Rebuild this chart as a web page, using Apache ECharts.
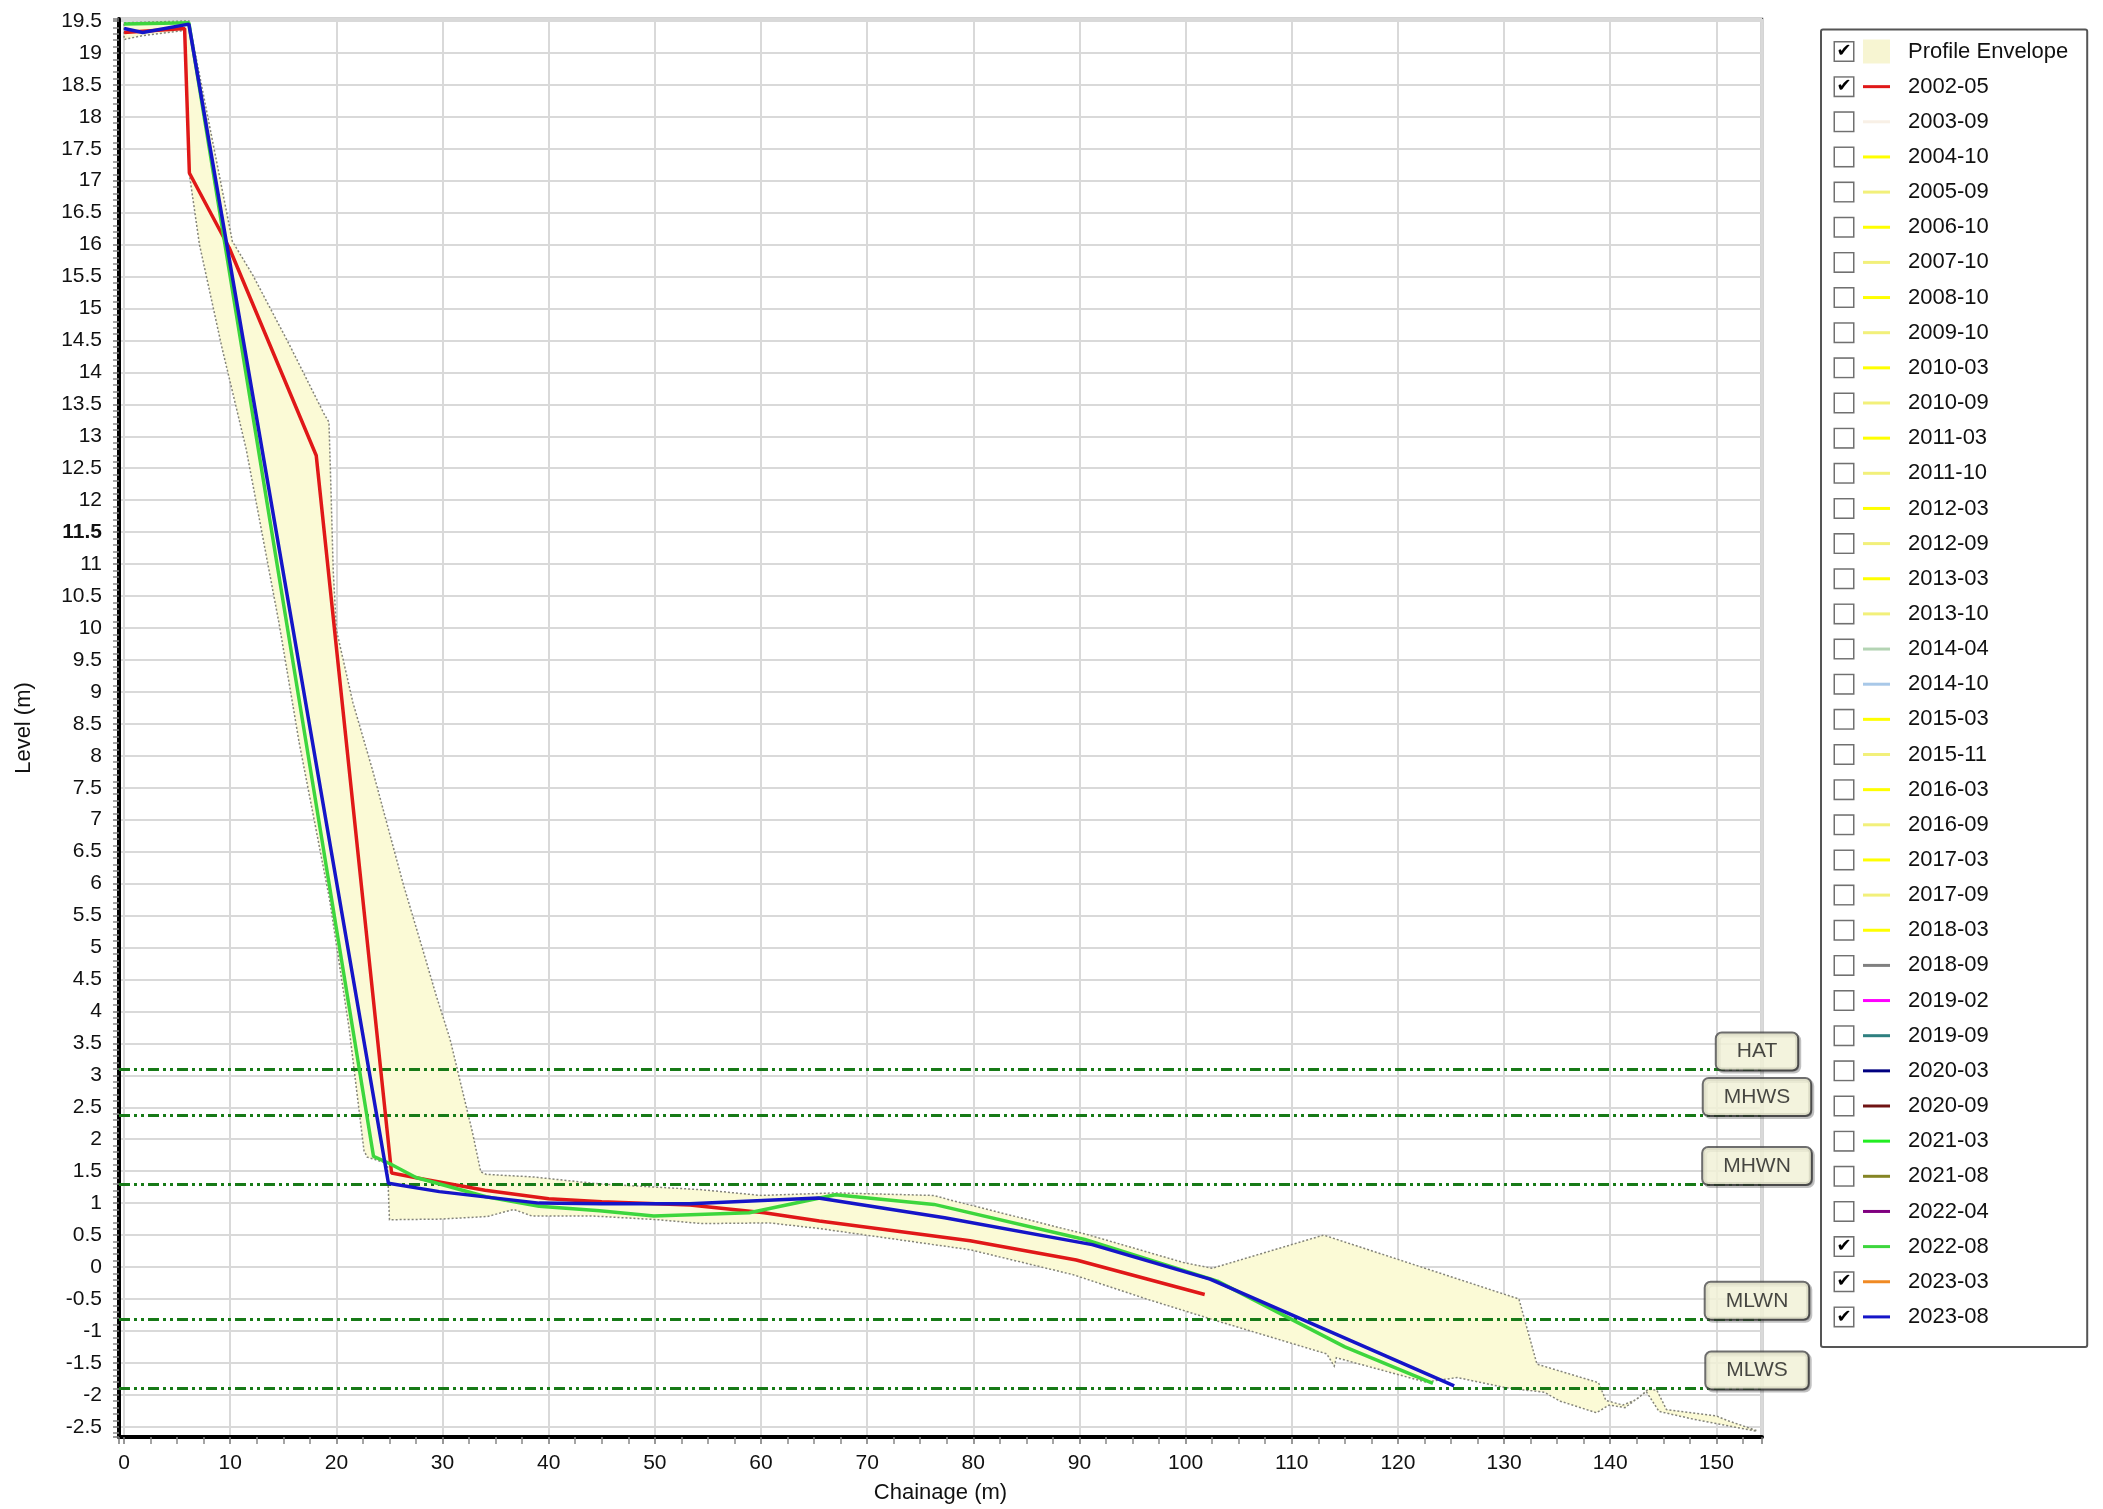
<!DOCTYPE html>
<html>
<head>
<meta charset="utf-8">
<script src="https://cdn.jsdelivr.net/npm/echarts@6/dist/echarts.min.js"></script>
<style>
html,body{margin:0;padding:0;background:#fff;}
#chart{width:2103px;height:1509px;}
</style>
</head>
<body>
<div id="chart"></div>
<script>
// ---------------- DATA ----------------
const profileNames = ['2002-05','2003-09','2004-10','2005-09','2006-10','2007-10','2008-10','2009-10','2010-03','2010-09','2011-03','2011-10','2012-03','2012-09','2013-03','2013-10','2014-04','2014-10','2015-03','2015-11','2016-03','2016-09','2017-03','2017-09','2018-03','2018-09','2019-02','2019-09','2020-03','2020-09','2021-03','2021-08','2022-04','2022-08','2023-03','2023-08'];
const profileColors = ['#E01818','#F8F0E6','#FFFF00','#F2F07A','#FFFF00','#F2F07A','#FFFF00','#F2F07A','#FFFF00','#F2F07A','#FFFF00','#F2F07A','#FFFF00','#F2F07A','#FFFF00','#F2F07A','#B4D4B4','#A8C8E8','#FFFF00','#F2F07A','#FFFF00','#F2F07A','#FFFF00','#F2F07A','#FFFF00','#808080','#FF00FF','#2F8080','#000080','#701414','#22EE22','#858525','#800080','#3DD63D','#F08A24','#1515C8'];
const checkedNames = ['Profile Envelope','2002-05','2022-08','2023-03','2023-08'];

// 2002-05 (red)
const chain_2002_05 = [0, 5.7, 6.15, 9.9, 18.1, 25.2, 28, 34, 40, 45, 53.3, 60.3, 65.5, 79.7, 89.7, 101.8];
const level_2002_05 = [19.32, 19.38, 17.12, 15.95, 12.7, 1.47, 1.38, 1.2, 1.07, 1.02, 0.97, 0.85, 0.72, 0.41, 0.11, -0.43];
// 2022-08 (green)
const chain_2022_08 = [0, 6.1, 23.5, 25.0, 27.5, 34.1, 39.1, 44.8, 49.9, 58.9, 67, 76.3, 90.5, 103, 115, 123.3];
const level_2022_08 = [19.45, 19.47, 1.73, 1.62, 1.4, 1.1, 0.95, 0.88, 0.8, 0.85, 1.13, 0.98, 0.43, -0.22, -1.25, -1.82];
// 2023-08 (blue)
const chain_2023_08 = [0, 1.75, 6.1, 24.9, 29.7, 39.1, 45, 53.3, 65.4, 77.3, 91.2, 102.3, 125.3];
const level_2023_08 = [19.38, 19.32, 19.45, 1.31, 1.18, 1.0, 0.99, 0.99, 1.08, 0.77, 0.35, -0.19, -1.86];

// Profile envelope (upper and lower boundaries)
const envUpperChain = [0, 6.1, 10.2, 12.1, 15.55, 18.84, 19.3, 19.5, 19.7, 20.0, 21.56, 23.4, 26.3, 28.2, 29.4, 30.7, 31.9, 32.8, 33.6, 34.1, 38.5, 44.8, 54.4, 60, 67, 76.3, 77.8, 90.9, 99.8, 102.5, 113, 131.4, 133.1, 138.9, 139.6, 141.2, 142.5, 143.6, 144.4, 145.3, 150, 151, 153.8];
const envUpperLevel = [19.47, 19.5, 16.05, 15.53, 14.44, 13.35, 13.22, 12.1, 10.9, 9.97, 8.83, 7.78, 5.99, 4.93, 4.25, 3.57, 2.74, 2.12, 1.49, 1.45, 1.41, 1.3, 1.21, 1.12, 1.16, 1.12, 1.05, 0.5, 0.07, -0.02, 0.5, -0.5, -1.52, -1.81, -2.09, -2.16, -2.07, -1.91, -1.93, -2.23, -2.33, -2.4, -2.56];
const envLowerChain = [0, 1.75, 5.7, 6.15, 7.1, 9.2, 11.5, 14.6, 16.5, 19.35, 21.2, 22.6, 22.9, 24.8, 25.0, 29.8, 34.2, 36.7, 38.4, 44, 50.3, 54.4, 60.8, 65.6, 79.7, 89.4, 96.5, 102.5, 113.3, 114.0, 114.2, 122.6, 125.6, 130.2, 133.8, 135.3, 138.7, 139.9, 141.4, 143.4, 144.6, 147.8, 153.8];
const envLowerLevel = [19.21, 19.27, 19.35, 17.1, 16.0, 14.4, 12.8, 10.07, 8.2, 5.76, 3.73, 1.82, 1.72, 1.62, 0.74, 0.75, 0.79, 0.9, 0.8, 0.8, 0.74, 0.68, 0.69, 0.6, 0.27, -0.12, -0.51, -0.82, -1.36, -1.55, -1.42, -1.8, -1.73, -1.89, -1.96, -2.1, -2.28, -2.16, -2.2, -1.95, -2.26, -2.38, -2.57];

// Tidal levels
const tideNames = ['HAT', 'MHWS', 'MHWN', 'MLWN', 'MLWS'];
const tideLevels = [3.09, 2.38, 1.3, -0.81, -1.9];

// Axis extents
const chainMin = -0.48, chainMax = 154.3;
const levelMin = -2.66, levelMax = 19.53;

// ---------------- BUILD ----------------
const profileData = {
  '2002-05': chain_2002_05.map((c, i) => [c, level_2002_05[i]]),
  '2022-08': chain_2022_08.map((c, i) => [c, level_2022_08[i]]),
  '2023-08': chain_2023_08.map((c, i) => [c, level_2023_08[i]])
};

const FONT = '"Liberation Sans", Arial, sans-serif';
const TXT = '#111';
const legendNames = ['Profile Envelope'].concat(profileNames);

const rich = {
  cb: {width: 18, height: 18, borderColor: '#707070', borderWidth: 1.5, backgroundColor: '#fff',
       align: 'center', verticalAlign: 'middle', fontSize: 18, lineHeight: 18, color: '#000',
       fontFamily: '"DejaVu Sans", sans-serif', fontWeight: 'bold'},
  s1: {width: 10, height: 4},
  s2: {width: 18, height: 4},
  env: {width: 27, height: 24, backgroundColor: '#F7F5D2'},
  tx: {fontSize: 22, lineHeight: 24, color: TXT, fontFamily: FONT, verticalAlign: 'middle'}
};
profileNames.forEach((n, i) => {
  rich['ln' + i] = {width: 27, height: 3, backgroundColor: profileColors[i], verticalAlign: 'middle'};
});

const series = [];
series.push({
  type: 'custom',
  name: 'Profile Envelope',
  coordinateSystem: 'cartesian2d',
  data: [[envUpperChain[0], envUpperLevel[0]]],
  silent: true,
  z: 1,
  renderItem: function (params, api) {
    const pts = [];
    for (let i = 0; i < envUpperChain.length; i++) pts.push(api.coord([envUpperChain[i], envUpperLevel[i]]));
    for (let i = envLowerChain.length - 1; i >= 0; i--) pts.push(api.coord([envLowerChain[i], envLowerLevel[i]]));
    return {
      type: 'polygon',
      shape: {points: pts},
      style: {fill: '#FBFAD6', stroke: '#84847a', lineWidth: 1.5, lineDash: [2, 2]}
    };
  }
});
profileNames.forEach((n, i) => {
  series.push({
    type: 'line',
    name: n,
    data: profileData[n] || [],
    symbol: 'none',
    lineStyle: {width: 3.5, color: profileColors[i]},
    itemStyle: {color: profileColors[i]},
    z: 3,
    silent: true
  });
});
series.push({
  type: 'scatter',
  name: 'tidal',
  symbolSize: 0,
  clip: false,
  silent: true,
  z: 6,
  data: tideNames.map((n, i) => ({name: n, value: [chainMax, tideLevels[i]]})),
  label: {
    show: true, position: 'top', distance: 0, offset: [-5, 0],
    formatter: '{b}',
    fontSize: 21, lineHeight: 24, color: '#1a1a1a', fontFamily: FONT,
    backgroundColor: '#FFFFE4', borderColor: '#4a4a4a', borderWidth: 2, borderRadius: 5,
    padding: [6, 20, 6, 20],
    shadowColor: 'rgba(0,0,0,0.3)', shadowBlur: 0, shadowOffsetX: 2, shadowOffsetY: 2
  },
  markLine: {
    silent: true, z: 2,
    symbol: ['none', 'none'],
    label: {show: false},
    lineStyle: {color: '#177A17', width: 3, type: [11, 4, 3, 4, 3, 4], opacity: 1},
    emphasis: {disabled: true},
    data: tideLevels.map(v => ({yAxis: v}))
  }
});

const option = {
  animation: false,
  backgroundColor: '#fff',
  textStyle: {fontFamily: FONT},
  grid: {left: 119, right: 341, top: 19, bottom: 67, show: true, borderColor: '#555', borderWidth: 2.5, backgroundColor: 'transparent'},
  xAxis: {
    type: 'value', min: chainMin, max: chainMax, splitNumber: 15,
    name: 'Chainage (m)', nameLocation: 'middle', nameGap: 45,
    nameTextStyle: {fontSize: 22, color: TXT, fontFamily: FONT},
    axisLine: {show: true, onZero: false, lineStyle: {color: '#000', width: 4}},
    axisTick: {show: true, length: 7, lineStyle: {color: '#777', width: 1.5}},
    minorTick: {show: true, splitNumber: 4, length: 7, lineStyle: {color: '#888', width: 1.5}},
    axisLabel: {fontSize: 21, color: TXT, margin: 16, fontFamily: FONT,
      formatter: v => (Math.abs(v / 10 - Math.round(v / 10)) < 1e-6 ? String(Math.round(v)) : '')},
    splitLine: {show: true, lineStyle: {color: '#d9d9d9', width: 2}}
  },
  yAxis: {
    type: 'value', min: levelMin, max: levelMax, splitNumber: 44,
    name: 'Level (m)', nameLocation: 'middle', nameGap: 84, nameRotate: 90,
    nameTextStyle: {fontSize: 22, color: TXT, fontFamily: FONT},
    axisLine: {show: true, onZero: false, lineStyle: {color: '#000', width: 4}},
    axisTick: {show: true, length: 6, lineStyle: {color: '#777', width: 1.5}},
    minorTick: {show: true, splitNumber: 5, length: 6, lineStyle: {color: '#888', width: 1.5}},
    axisLabel: {fontSize: 21, color: TXT, margin: 17, fontFamily: FONT,
      formatter: function (v) {
        const r = Math.round(v * 2) / 2;
        if (Math.abs(v - r) > 1e-6) return '';
        const s = String(r);
        return r === 11.5 ? '{b|' + s + '}' : s;
      },
      rich: {b: {fontWeight: 'bold', fontSize: 21, color: TXT, fontFamily: FONT}}
    },
    splitLine: {show: true, lineStyle: {color: '#d9d9d9', width: 2}}
  },
  legend: {
    orient: 'vertical', left: 1821, top: 29.5,
    padding: [10, 19, 18, 9],
    itemGap: 11.15, itemWidth: 0, itemHeight: 24,
    selectedMode: false,
    borderColor: '#555', borderWidth: 2, borderRadius: 2, backgroundColor: '#fff',
    icon: 'rect',
    itemStyle: {opacity: 0},
    lineStyle: {opacity: 0},
    data: legendNames,
    formatter: function (name) {
      const cb = checkedNames.indexOf(name) >= 0 ? '✔' : ' ';
      let icon;
      if (name === 'Profile Envelope') icon = '{env| }';
      else icon = '{ln' + profileNames.indexOf(name) + '| }';
      return '{cb|' + cb + '}{s1| }' + icon + '{s2| }{tx|' + name + '}';
    },
    textStyle: {rich: rich, fontFamily: FONT, fontSize: 22, color: TXT}
  },
  series: series
};

const chart = echarts.init(document.getElementById('chart'), null, {renderer: 'canvas'});
chart.setOption(option);
</script>
</body>
</html>
